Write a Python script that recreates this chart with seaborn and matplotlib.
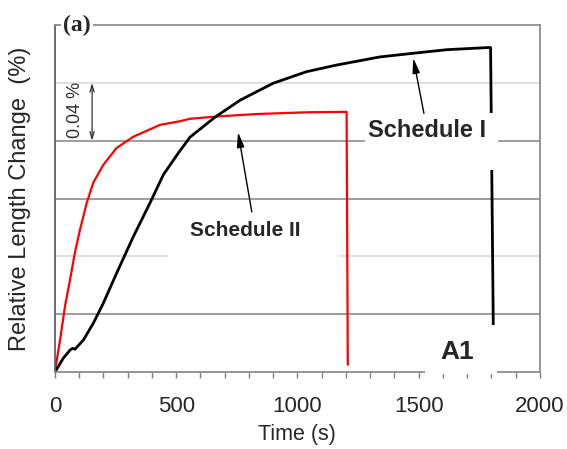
import seaborn as sns
import matplotlib.pyplot as plt
import pandas as pd
from matplotlib.patches import Rectangle
from matplotlib.ticker import MultipleLocator

# data (time in s, relative length change in %)
time_s1 = [0, 34, 62, 73, 82, 117, 158, 199, 254, 323, 392, 447, 508, 557, 660, 763,
           900, 1038, 1162, 1340, 1476, 1615, 1786, 1797, 1810]
change_s1 = [0, 0.0095, 0.0152, 0.0164, 0.0157, 0.0221, 0.0337, 0.0475, 0.0683, 0.0936,
             0.117, 0.1365, 0.1513, 0.1625, 0.1763, 0.188, 0.1998, 0.2078, 0.2124,
             0.218, 0.2205, 0.223, 0.2245, 0.2245, 0.0]
time_s2 = [0, 4, 21, 41, 62, 82, 103, 131, 158, 199, 254, 323, 380, 433, 515, 557, 660,
           832, 1038, 1203, 1208]
change_s2 = [0, 0.0048, 0.0221, 0.0452, 0.0637, 0.0824, 0.0983, 0.117, 0.131, 0.1432,
             0.155, 0.1628, 0.167, 0.171, 0.1735, 0.1752, 0.1767, 0.1785, 0.1797, 0.180,
             0.005]

grid_levels = [0.04, 0.08, 0.12, 0.16, 0.20]
grid_colors = ['#8c8c8c', '#d9d9d9', '#8c8c8c', '#8c8c8c', '#d9d9d9']

df1 = pd.DataFrame({'time': time_s1, 'change': change_s1})
df2 = pd.DataFrame({'time': time_s2, 'change': change_s2})

sns.set_style('white')
plt.rcParams['font.family'] = ['Liberation Sans', 'DejaVu Sans']

fig = plt.figure(figsize=(5.67, 4.49), dpi=100)
ax = fig.add_axes([0.097, 0.1715, 0.855, 0.7725])

sns.lineplot(data=df2, x='time', y='change', color='#ff0000', lw=1.6, sort=False,
             estimator=None, ax=ax)
sns.lineplot(data=df1, x='time', y='change', color='black', lw=2.0, sort=False,
             estimator=None, ax=ax)

ax.set_xlim(0, 2000)
ax.set_ylim(0, 0.24)
ax.set_yticks(grid_levels)
ax.set_yticklabels([])
ax.tick_params(axis='y', length=0)
ax.xaxis.set_major_locator(MultipleLocator(500))
ax.xaxis.set_minor_locator(MultipleLocator(100))
ax.tick_params(axis='x', which='both', direction='out', length=4, width=1,
               color='#808080', labelsize=16, pad=13, bottom=True)
ax.grid(axis='y', lw=1.2)
for gl, c in zip(ax.get_ygridlines(), grid_colors):
    gl.set_color(c)
for side in ['top', 'right', 'bottom']:
    ax.spines[side].set_color('#8c8c8c')
    ax.spines[side].set_linewidth(1.3)
ax.spines['left'].set_color('#606060')
ax.spines['left'].set_linewidth(1.3)

ax.set_xlabel('Time (s)', fontsize=15.5, labelpad=5)
ax.set_ylabel('Relative Length Change  (%)', fontsize=17, labelpad=14)

# white boxes behind labels
for x0, y0, w, h in [(1526, -0.0014, 297, 0.034), (1278, 0.1398, 549, 0.0392),
                     (466, 0.0761, 705, 0.0395)]:
    ax.add_patch(Rectangle((x0, y0), w, h, facecolor='white', edgecolor='none',
                           zorder=3, clip_on=False))

ax.text(1534, 0.1668, 'Schedule I', fontsize=17, fontweight='bold', ha='center',
        va='center', zorder=4)
ax.text(784, 0.0976, 'Schedule II', fontsize=15, fontweight='bold', ha='center',
        va='center', zorder=4)
ax.text(1660, 0.0135, 'A1', fontsize=19, fontweight='bold', ha='center',
        va='center', zorder=4)

ax.annotate('', xy=(1478, 0.2173), xytext=(1522, 0.179),
            arrowprops=dict(arrowstyle='-|>,head_width=0.22,head_length=0.9',
                            color='black', lw=1, shrinkA=0, shrinkB=0), zorder=4)
ax.annotate('', xy=(755, 0.166), xytext=(812, 0.1107),
            arrowprops=dict(arrowstyle='-|>,head_width=0.22,head_length=0.9',
                            color='black', lw=1, shrinkA=0, shrinkB=0), zorder=4)

# 0.04 % scale marker
ax.annotate('', xy=(153, 0.20), xytext=(153, 0.16),
            arrowprops=dict(arrowstyle='<->,head_width=0.15,head_length=0.5',
                            color='#303030', lw=0.9, shrinkA=0, shrinkB=0))
ax.text(86, 0.181, '0.04 %', fontsize=13, rotation=90, ha='center', va='center',
        color='#303030')

ax.text(0.016, 1.0, '(a)', transform=ax.transAxes, fontsize=17, fontweight='bold',
        family='Liberation Serif', ha='left', va='center',
        bbox=dict(facecolor='white', edgecolor='none', pad=1.5), zorder=5)

fig.savefig('out.png', dpi=100)
